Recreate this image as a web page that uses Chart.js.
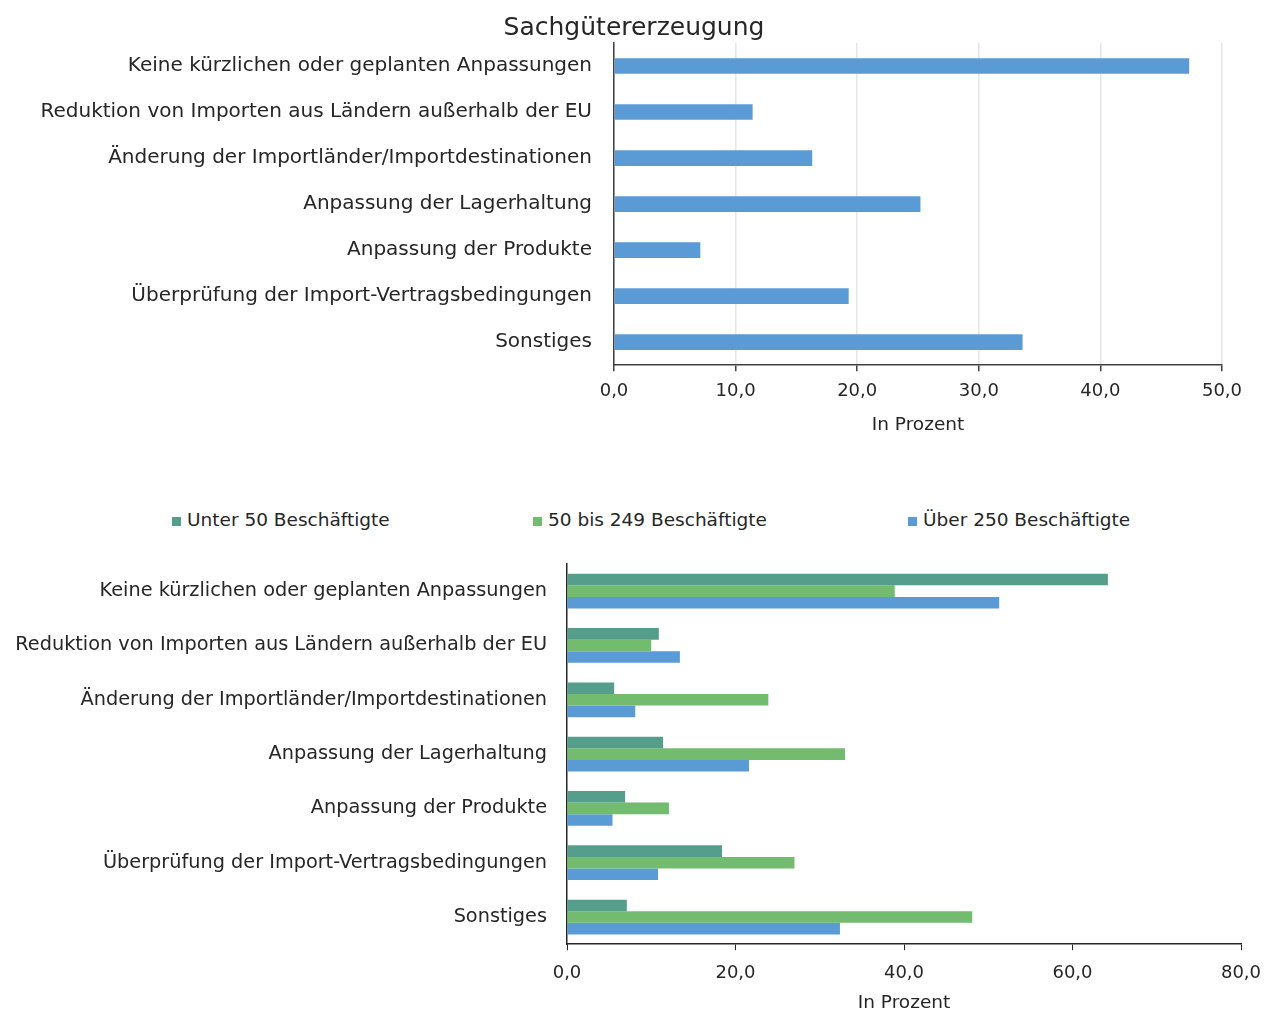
<!DOCTYPE html>
<html>
<head>
<meta charset="utf-8">
<script src="https://cdn.jsdelivr.net/npm/chart.js@4.4.1/dist/chart.umd.min.js"></script>
<style>
  html, body { margin: 0; padding: 0; background: #fff; overflow: hidden; width: 1264px; height: 1012px; }
  #c1wrap { position: absolute; left: 0; top: 0; width: 1264px; height: 445px; }
  #c2wrap { position: absolute; left: 0; top: 540px; width: 1264px; height: 478px; }
  #legend { position: absolute; left: 0; top: 507px; width: 1264px; height: 26px;
            font-family: 'DejaVu Sans', sans-serif; font-size: 18.5px; color: #262626; }
  #legend .item { position: absolute; top: 0; white-space: nowrap; line-height: 26px; }
  #legend .box { display: inline-block; width: 9px; height: 9px; margin-right: 6px; vertical-align: 0px; }
</style>
</head>
<body>
<div id="c1wrap"><canvas id="c1"></canvas></div>
<div id="legend"></div>
<div id="c2wrap"><canvas id="c2"></canvas></div>
<script>
const categories = [
  "Keine kürzlichen oder geplanten Anpassungen",
  "Reduktion von Importen aus Ländern außerhalb der EU",
  "Änderung der Importländer/Importdestinationen",
  "Anpassung der Lagerhaltung",
  "Anpassung der Produkte",
  "Überprüfung der Import-Vertragsbedingungen",
  "Sonstiges"
];
const topTitle = "Sachgütererzeugung";
const topValues = [47.3, 11.4, 16.3, 25.2, 7.1, 19.3, 33.6];

const seriesNames = ["Unter 50 Beschäftigte", "50 bis 249 Beschäftigte", "Über 250 Beschäftigte"];
const under50 = [64.2, 10.9, 5.6, 11.4, 6.9, 18.4, 7.1];
const mid50to249 = [38.9, 10.0, 23.9, 33.0, 12.1, 27.0, 48.1];
const over250 = [51.3, 13.4, 8.1, 21.6, 5.4, 10.8, 32.4];

const axisTitle = "In Prozent";

const seriesColors = ['#559E8C', '#72BB6F', '#5A9BD5'];
const FONT = "'DejaVu Sans', sans-serif";
const TXT = "#262626";
Chart.defaults.font.family = FONT;
Chart.defaults.color = TXT;
Chart.defaults.animation = false;

const fmt = v => Number(v).toFixed(1).replace('.', ',');

// HTML legend for the lower chart (items spread as in the reference)
const legendX = [172, 533, 908];
const legendEl = document.getElementById('legend');
seriesNames.forEach((name, i) => {
  const it = document.createElement('div');
  it.className = 'item';
  it.style.left = legendX[i] + 'px';
  const b = document.createElement('span');
  b.className = 'box';
  b.style.background = seriesColors[i];
  it.appendChild(b);
  it.appendChild(document.createTextNode(name));
  legendEl.appendChild(it);
});

// centre the title over the region between 46px and 1222px, as in the reference
const shiftTitle = {
  id: 'shiftTitle',
  afterLayout(chart) {
    const t = chart.titleBlock;
    if (t) { t.left = 46; t.right = 1222; }
  }
};
const noXPad = s => { s.paddingLeft = 0; s.paddingRight = 0; };

new Chart(document.getElementById('c1'), {
  type: 'bar',
  data: {
    labels: categories,
    datasets: [{
      data: topValues,
      backgroundColor: seriesColors[2],
      borderWidth: 0,
      categoryPercentage: 1.0,
      barPercentage: 0.34
    }]
  },
  plugins: [shiftTitle],
  options: {
    indexAxis: 'y',
    responsive: true,
    maintainAspectRatio: false,
    layout: { padding: { top: 13, right: 42, bottom: 9, left: 0 } },
    plugins: {
      legend: { display: false },
      tooltip: { enabled: false },
      title: {
        display: true, text: topTitle, color: TXT,
        font: { size: 25, weight: 'normal' },
        padding: { top: 0, bottom: 0 }
      }
    },
    scales: {
      x: {
        min: 0, max: 50,
        ticks: { stepSize: 10, callback: v => fmt(v), font: { size: 18 }, color: TXT, padding: 9 },
        grid: { display: true, drawOnChartArea: true, color: '#e6e6e6', lineWidth: 1.5, tickLength: 6, tickColor: '#404040' },
        border: { display: true, color: '#404040', width: 1.5 },
        title: { display: true, text: axisTitle, font: { size: 18.5 }, color: TXT, padding: { top: 3, bottom: 0 } },
        afterFit: noXPad
      },
      y: {
        ticks: { font: { size: 20 }, color: TXT, padding: 22 },
        grid: { display: false, drawTicks: false },
        border: { display: true, color: '#404040', width: 1.5 },
        afterFit: s => { s.width = 614; s.paddingTop = 0; s.paddingBottom = 0; }
      }
    }
  }
});

new Chart(document.getElementById('c2'), {
  type: 'bar',
  data: {
    labels: categories,
    datasets: [
      { label: seriesNames[0], data: under50, backgroundColor: seriesColors[0], categoryPercentage: 0.64, barPercentage: 1.0 },
      { label: seriesNames[1], data: mid50to249, backgroundColor: seriesColors[1], categoryPercentage: 0.64, barPercentage: 1.0 },
      { label: seriesNames[2], data: over250, backgroundColor: seriesColors[2], categoryPercentage: 0.64, barPercentage: 1.0 }
    ]
  },
  options: {
    indexAxis: 'y',
    responsive: true,
    maintainAspectRatio: false,
    layout: { padding: { top: 24, right: 23, bottom: 4, left: 0 } },
    plugins: {
      tooltip: { enabled: false },
      legend: { display: false }
    },
    scales: {
      x: {
        min: 0, max: 80,
        ticks: { stepSize: 20, callback: v => fmt(v), font: { size: 18 }, color: TXT, padding: 12 },
        grid: { display: true, drawOnChartArea: false, tickLength: 6, tickColor: '#262626' },
        border: { display: true, color: '#262626', width: 1.5 },
        title: { display: true, text: axisTitle, font: { size: 18.5 }, color: TXT, padding: { top: -4, bottom: 0 } },
        afterFit: noXPad
      },
      y: {
        ticks: { font: { size: 19.3 }, color: TXT, padding: 20 },
        grid: { display: false, drawTicks: false },
        border: { display: true, color: '#262626', width: 1.5 },
        afterFit: s => { s.width = 567; s.paddingTop = 0; s.paddingBottom = 0; }
      }
    }
  }
});
</script>
</body>
</html>
